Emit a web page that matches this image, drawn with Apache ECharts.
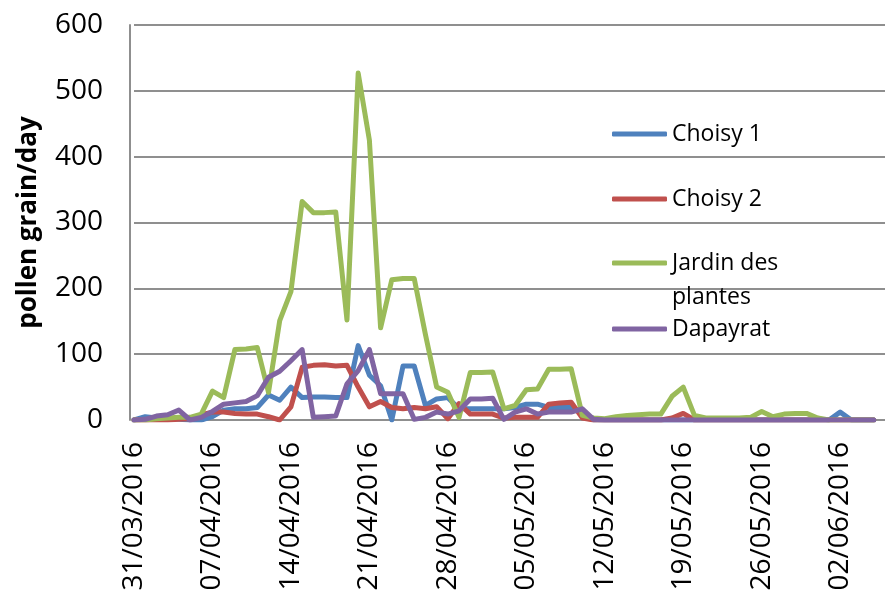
<!DOCTYPE html>
<html>
<head>
<meta charset="utf-8">
<script src="https://cdn.jsdelivr.net/npm/echarts@6/dist/echarts.min.js"></script>
<style>
  html, body { margin: 0; padding: 0; background: #ffffff; }
  #chart { width: 885px; height: 601px; }
</style>
</head>
<body>
<div id="chart"></div>
<script>
// Daily pollen counts (pollen grain/day), one value per day from 31/03/2016
const firstDay = [2016, 2, 31];
const axisDays = 68;

const seriesNames = ['Choisy 1', 'Choisy 2', 'Jardin des plantes', 'Dapayrat'];

const choisy1 = [
  0, 5, 3, 2, 1, 0, 0, 5, 15, 17, 17, 19, 38, 30, 50, 34, 35, 35, 34, 34,
  113, 68, 52, 0, 82, 82, 22, 32, 34, 17, 17, 17, 17, 17, 19, 24, 24, 19, 19, 19,
  12, 0, 0, 0, 0, 0, 0, 0, 0, 0, 0, 0, 0, 0, 0, 0, 0, 0, 0, 0,
  0, 0, 0, 12, 0, 0, 0
];
const choisy2 = [
  0, 0, 0, 0, 1, 2, 8, 12, 12, 10, 9, 9, 5, 0, 20, 80, 83, 84, 82, 83,
  50, 20, 28, 19, 17, 19, 17, 20, 2, 25, 9, 9, 9, 3, 4, 4, 4, 24, 26, 27,
  3, 0, 0, 0, 0, 0, 0, 0, 3, 10, 0, 0, 0, 0, 0, 0, 0, 0, 0, 0,
  0, 0, 0, 0, 0, 0, 0
];
const jardinDesPlantes = [
  0, 0, 2, 3, 4, 4, 9, 44, 34, 107, 108, 110, 42, 151, 195, 332, 315, 315, 316, 152,
  527, 425, 140, 213, 215, 215, 130, 50, 42, 4, 72, 72, 73, 17, 22, 46, 47, 77, 77, 78,
  7, 3, 2, 5, 7, 8, 9, 9, 36, 50, 7, 3, 3, 3, 3, 4, 13, 5, 9, 10,
  10, 3, 0, 0, 0, 0, 0
];
const dapayrat = [
  0, 1, 6, 8, 15, 0, 4, 13, 24, 26, 28, 37, 65, 74, 90, 107, 4, 5, 6, 55,
  75, 107, 40, 40, 40, 1, 4, 12, 9, 14, 32, 32, 33, 1, 12, 17, 9, 12, 12, 12,
  17, 1, 0, 0, 0, 0, 0, 0, 0, 0, 0, 0, 0, 0, 0, 0, 0, 0, 0, 0,
  0, 0, 0, 0, 0, 0, 0
];

const yTicks = { min: 0, max: 600, step: 100 };

const colors = ['#4F81BD', '#C0504D', '#9BBB59', '#8064A2'];
const seriesData = [choisy1, choisy2, jardinDesPlantes, dapayrat];

// dd/mm/yyyy labels for the category axis
function pad(n) { return (n < 10 ? '0' : '') + n; }
const dates = [];
for (let i = 0; i < axisDays; i++) {
  const d = new Date(firstDay[0], firstDay[1], firstDay[2] + i);
  dates.push(pad(d.getDate()) + '/' + pad(d.getMonth() + 1) + '/' + d.getFullYear());
}

const FONT = '"Open Sans", "Liberation Sans", sans-serif';
const GRID_COLOR = '#8f8f8f';

// One legend block per station so the rows sit where wanted.
// The two-line entry gets an empty first line so its swatch lines up
// with "Jardin des" rather than the middle of the block.
const legendRows = [
  { name: seriesNames[0], top: 117 },
  { name: seriesNames[1], top: 182 },
  { name: seriesNames[2], top: 212 },
  { name: seriesNames[3], top: 312 }
];

const legends = legendRows.map(function (row) {
  return {
    show: true,
    orient: 'vertical',
    left: 612,
    top: row.top,
    padding: 0,
    itemWidth: 55,
    itemHeight: 5,
    icon: 'roundRect',
    selectedMode: false,
    formatter: function (name) {
      return name === 'Jardin des plantes' ? ' \nJardin des\nplantes' : name;
    },
    textStyle: {
      fontFamily: FONT,
      fontSize: 23,
      color: '#000000',
      lineHeight: 34
    },
    data: [row.name]
  };
});

const chart = echarts.init(document.getElementById('chart'), null, { renderer: 'canvas' });

chart.setOption({
  animation: false,
  backgroundColor: '#ffffff',
  color: colors,
  legend: legends,
  grid: {
    left: 134,
    right: -5,
    top: 25,
    bottom: 181,
    containLabel: false
  },
  xAxis: {
    type: 'category',
    data: dates,
    boundaryGap: false,
    axisLine: { show: true, lineStyle: { color: GRID_COLOR, width: 2 } },
    axisTick: { show: false },
    axisLabel: {
      interval: 6,
      rotate: 90,
      margin: 22,
      fontFamily: FONT,
      fontSize: 28,
      color: '#000000'
    },
    splitLine: { show: false }
  },
  yAxis: {
    type: 'value',
    min: yTicks.min,
    max: yTicks.max,
    interval: yTicks.step,
    offset: 4,
    name: 'pollen grain/day',
    nameLocation: 'middle',
    nameGap: 88,
    nameTextStyle: {
      fontFamily: FONT,
      fontSize: 26,
      fontWeight: 'bold',
      color: '#000000'
    },
    axisLine: { show: true, lineStyle: { color: GRID_COLOR, width: 2 } },
    axisTick: { show: false },
    axisLabel: {
      margin: 27,
      fontFamily: FONT,
      fontSize: 28,
      color: '#000000'
    },
    splitLine: { show: true, lineStyle: { color: GRID_COLOR, width: 2 } }
  },
  series: seriesData.map(function (values, i) {
    return {
      name: seriesNames[i],
      type: 'line',
      data: values,
      symbol: 'none',
      smooth: false,
      clip: true,
      lineStyle: { width: 5, color: colors[i], cap: 'round', join: 'round' },
      itemStyle: { color: colors[i] }
    };
  })
});
</script>
</body>
</html>
